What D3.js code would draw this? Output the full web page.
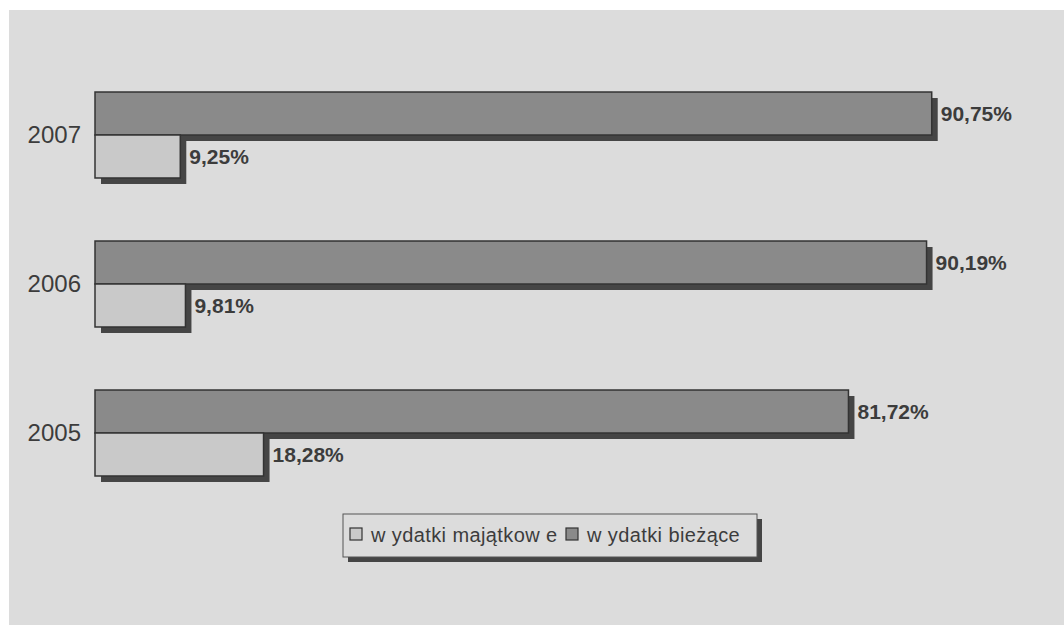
<!DOCTYPE html>
<html><head><meta charset="utf-8">
<script src="https://cdn.jsdelivr.net/npm/d3@7"></script>
<style>body{margin:0;background:#fff;}svg{display:block;}</style>
</head><body>
<svg id="c" width="1064" height="625"></svg>
<script>
const years = ["2007", "2006", "2005"];
const seriesNames = ["w ydatki bieżące", "w ydatki majątkow e"];
const biezace = [90.75, 90.19, 81.72];
const majatkowe = [9.25, 9.81, 18.28];
const valueLabels = [["90,75%", "9,25%"], ["90,19%", "9,81%"], ["81,72%", "18,28%"]];
const legendOrder = ["w ydatki majątkow e", "w ydatki bieżące"];

const fills = {"w ydatki bieżące": "#8a8a8a", "w ydatki majątkow e": "#c9c9c9"};
const svg = d3.select("#c");
const font = "'Liberation Sans', Arial, sans-serif";

svg.append("rect").attr("x", 9).attr("y", 10).attr("width", 1064 - 9).attr("height", 625 - 10).attr("fill", "#dcdcdc");

const x = d3.scaleLinear().domain([0, 100]).range([95, 95 + 922]);
const y = d3.scaleBand().domain(years).range([60.5, 507.5]).paddingInner(0.423).paddingOuter(0.2115);
const ySub = d3.scaleBand().domain(seriesNames).range([0, y.bandwidth()]);

const data = [];
years.forEach((yr, i) => {
  data.push({year: yr, s: seriesNames[0], v: biezace[i], label: valueLabels[i][0]});
  data.push({year: yr, s: seriesNames[1], v: majatkowe[i], label: valueLabels[i][1]});
});

const sh = 6;
const g = svg.append("g");
g.selectAll("rect.sh").data(data).join("rect").attr("class", "sh")
  .attr("x", d => x(0) + sh).attr("y", d => y(d.year) + ySub(d.s) + sh)
  .attr("width", d => x(d.v) - x(0)).attr("height", ySub.bandwidth())
  .attr("fill", "#454545");
g.selectAll("rect.bar").data(data).join("rect").attr("class", "bar")
  .attr("x", d => x(0)).attr("y", d => y(d.year) + ySub(d.s))
  .attr("width", d => x(d.v) - x(0)).attr("height", ySub.bandwidth())
  .attr("fill", d => fills[d.s]).attr("stroke", "#333").attr("stroke-width", 1.5);

g.selectAll("text.val").data(data).join("text").attr("class", "val")
  .attr("x", d => x(d.v) + sh + 3).attr("y", d => y(d.year) + ySub(d.s) + ySub.bandwidth() / 2)
  .attr("dy", "0.35em").attr("font-family", font).attr("font-weight", "bold")
  .attr("font-size", 21).attr("fill", "#3c3c3c").text(d => d.label);

svg.append("g").selectAll("text").data(years).join("text")
  .attr("x", 81).attr("y", d => y(d) + y.bandwidth() / 2).attr("dy", "0.35em")
  .attr("text-anchor", "end").attr("font-family", font).attr("font-size", 24)
  .attr("fill", "#3c3c3c").text(d => d);

// legend
const lg = svg.append("g");
const lx = 343, ly = 514, lw = 414, lh = 43;
lg.append("rect").attr("x", lx + 5).attr("y", ly + 5).attr("width", lw).attr("height", lh).attr("fill", "#454545");
lg.append("rect").attr("x", lx).attr("y", ly).attr("width", lw).attr("height", lh).attr("fill", "#dcdcdc").attr("stroke", "#555").attr("stroke-width", 1);
const itemX = [350, 566];
legendOrder.forEach((s, i) => {
  lg.append("rect").attr("x", itemX[i]).attr("y", ly + 14).attr("width", 12).attr("height", 12)
    .attr("fill", fills[s]).attr("stroke", "#333").attr("stroke-width", 1.2);
  lg.append("text").attr("x", itemX[i] + 21).attr("y", ly + 21).attr("dy", "0.35em")
    .attr("font-family", font).attr("font-size", 20).attr("letter-spacing", 0.4)
    .attr("fill", "#3c3c3c").text(s);
});
</script>
</body></html>
